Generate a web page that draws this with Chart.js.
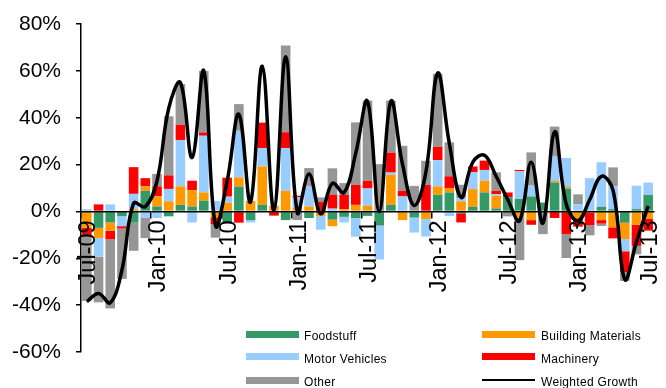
<!DOCTYPE html>
<html>
<head>
<meta charset="utf-8">
<script src="https://cdn.jsdelivr.net/npm/chart.js@4.4.0/dist/chart.umd.min.js"></script>
<style>
  html, body { margin: 0; padding: 0; background: #fff; }
  #wrap { position: relative; width: 666px; height: 388px; overflow: hidden; }
  canvas { display: block; }
  .key-text { position: absolute; font: 12px 'Liberation Sans', Arial, sans-serif; letter-spacing: 0.3px;
              line-height: 12px; color: #000; white-space: nowrap; }
  .key-swatch { position: absolute; width: 53px; }
</style>
</head>
<body>
<div id="wrap">
  <canvas id="chart" width="666" height="388"></canvas>
  <div id="legend"></div>
</div>
<script>
// Monthly contribution to growth by sector, Jul-09 .. Jul-13 (percent)
const months = ['Jul-09','Aug-09','Sep-09','Oct-09','Nov-09','Dec-09','Jan-10','Feb-10','Mar-10','Apr-10','May-10','Jun-10',
  'Jul-10','Aug-10','Sep-10','Oct-10','Nov-10','Dec-10','Jan-11','Feb-11','Mar-11','Apr-11','May-11','Jun-11',
  'Jul-11','Aug-11','Sep-11','Oct-11','Nov-11','Dec-11','Jan-12','Feb-12','Mar-12','Apr-12','May-12','Jun-12',
  'Jul-12','Aug-12','Sep-12','Oct-12','Nov-12','Dec-12','Jan-13','Feb-13','Mar-13','Apr-13','May-13','Jun-13','Jul-13'];

const foodstuff = [0, -7, -4.7, -2, -4.8, 8.8, 2.1, -2.1, 2.8, 2.1, 4.6, 0,
  -4.5, 10.6, -3.7, 2.8, 0, -3.7, 0, -2.8, 0, -3.5, -2.3, -2.8,
  -1.9, -6, 2.8, 0, -2.6, 0, 7.1, 8.1, -0.8, 2, 8.1, 1.3,
  6, 5.3, 6.4, 3.8, 12.3, 9.7, 0, 0, 2, 1, -4.8, 1, 7];

const buildingMaterials = [-7, -4.3, -3.6, 0, 1, 1.9, 4.3, 4.3, 7.9, 7, 3.5, -2.5,
  3.7, 3.9, 4.5, 16.4, 2.4, 8.8, 1.7, 2.1, -2, -2.8, 1, 2.8,
  2.4, 0, 12.8, -3.7, 0, -3.3, 3.6, 1.9, 4.3, 7.5, 5, 5.4,
  0, -2.6, -3.7, 0, 0.7, 0.7, -3, -0.5, -3.7, -6.8, -7, -5.6, -3.2];

const motorVehicles = [1, -8, 3, -4.3, 6.5, -2.6, -2.8, 5.3, 19.8, -4.7, 24.2, 4.5,
  2.6, 19.9, -1, 7.8, 0, 18.2, 4.3, 8.9, -5.8, 1.2, -2.4, -8,
  7.4, -14.5, 1, 6.4, -6.4, -7.4, 11.2, -2, 1.4, 7.2, 4.6, 0.7,
  0, 11.8, 4.6, 0, 10.7, 12.4, 3, 14.2, 19, 9.7, -5.2, 10, 5.3];

const machinery = [-3, 3, -3.6, -1, 11.4, 3.5, 4.3, 5.8, 6.5, 4, 1.4, -3,
  8.1, -4.8, 0, 10.9, -1.8, 6.8, 0.7, 0.4, 4, 6, 6.1, 8.6,
  3.3, 0, 8.5, 2.4, 0, 11.3, 5.7, 5, -3.9, 2.5, 4, 1.4,
  2.1, 0.6, -2, 0, -2.8, -9.7, -3.5, -5.4, -1.5, -4.7, -8.9, -9.1, -5];

const other = [-28.2, -19.5, -29.5, -21.5, -12, -8.8, 5.3, 25.2, 17.4, 0, 26.3, -5.7,
  0, 11.4, 0, 0, 0, 37, -3.7, 7.1, 2, 11.2, 5, 26.6,
  34.2, 20.2, 22.2, 19.2, 10.9, 10.3, 31.1, 14.5, 5.7, 0, 0, 7.9,
  -2.1, -18.2, 14.2, -9.7, 12.5, -10.2, 4.3, -4.3, -1, 8.1, -3.8, -3.6, 0];

const weightedGrowth = [-38.5, -35, -39, -25, 3.5, 2, 13, 44, 55, 23, 60, -6,
  13, 41.5, 4, 62, 0.5, 66, -0.5, 16, -1, 12, 8, 25,
  47, 0, 47, 20, 2.5, 17, 59, 29, 6, 21, 24, 15,
  5, -4, 21, -5, 34, 3, -4, 5, 15, 9, -29, -13, 2.3];

const yTicks = [-60, -40, -20, 0, 20, 40, 60, 80];

const sectors = [
  { name: 'Foodstuff',          values: foodstuff,         color: '#339966' },
  { name: 'Building Materials', values: buildingMaterials, color: '#FF9900' },
  { name: 'Motor Vehicles',     values: motorVehicles,     color: '#99CCFF' },
  { name: 'Machinery',          values: machinery,         color: '#FF0000' },
  { name: 'Other',              values: other,             color: '#969696' }
];

const FONT = "'Liberation Sans', Arial, sans-serif";

const datasets = [
  {
    type: 'line', label: 'Weighted Growth', data: weightedGrowth,
    borderColor: '#000', borderWidth: 3.5, pointRadius: 0, tension: 0.4,
    fill: false, order: 0, stack: 'growth'
  }
].concat(sectors.map(s => ({
  type: 'bar', label: s.name, data: s.values, backgroundColor: s.color,
  borderWidth: 0, barPercentage: 0.82, categoryPercentage: 1, order: 1, stack: 'sectors'
})));

new Chart(document.getElementById('chart'), {
  data: { labels: months, datasets },
  options: {
    responsive: false,
    animation: false,
    events: [],
    layout: { padding: { top: 24, right: 12, bottom: 36, left: 0 } },
    plugins: { legend: { display: false }, tooltip: { enabled: false } },
    scales: {
      x: {
        stacked: true,
        offset: true,
        position: { y: 0 },
        // the month labels sit inside the plot, so they need no side margin
        afterFit: s => { s.paddingLeft = 0; s.paddingRight = 0; },
        grid: {
          z: 1, offset: true, drawOnChartArea: false, drawTicks: true, tickLength: 6, lineWidth: 1.5,
          color: c => (c.index % 6 === 0 ? '#000' : 'rgba(0,0,0,0)')
        },
        border: { z: 1, display: true, color: '#000', width: 1.5 },
        ticks: {
          z: 1, autoSkip: false, minRotation: 90, maxRotation: 90, padding: 3, labelOffset: 2,
          color: '#000', font: { family: FONT, size: 23.5 },
          callback: (v, i) => (i % 6 === 0 ? months[i] : '')
        }
      },
      y: {
        stacked: true,
        min: yTicks[0],
        max: yTicks[yTicks.length - 1],
        afterFit: s => { s.width = 81; s.paddingTop = 0; s.paddingBottom = 0; },
        afterBuildTicks: s => { s.ticks = yTicks.map(v => ({ value: v })); },
        grid: { drawOnChartArea: false, drawTicks: true, tickLength: 5, lineWidth: 1.5, color: '#000' },
        border: { display: true, color: '#000', width: 1.5 },
        ticks: {
          padding: 15, color: '#000', font: { family: FONT, size: 21 },
          callback: v => v + '%'
        }
      }
    }
  }
});

// Two-column key under the plot
const keyItems = [
  { name: 'Foodstuff',          color: '#339966', col: 0, row: 0 },
  { name: 'Building Materials', color: '#FF9900', col: 1, row: 0 },
  { name: 'Motor Vehicles',     color: '#99CCFF', col: 0, row: 1 },
  { name: 'Machinery',          color: '#FF0000', col: 1, row: 1 },
  { name: 'Other',              color: '#969696', col: 0, row: 2 },
  { name: 'Weighted Growth',    color: '#000000', col: 1, row: 2, line: true }
];
const colSwatchX = [246, 482];
const colTextX = [304, 541];
const rowSwatchY = [331, 353, 377];
const rowTextY = [330, 353, 376];
const legend = document.getElementById('legend');
keyItems.forEach(k => {
  const sw = document.createElement('div');
  sw.className = 'key-swatch';
  sw.style.left = colSwatchX[k.col] + 'px';
  sw.style.background = k.color;
  if (k.line) {
    sw.style.top = (rowSwatchY[k.row] + 2) + 'px';
    sw.style.height = '2px';
  } else {
    sw.style.top = rowSwatchY[k.row] + 'px';
    sw.style.height = '7px';
  }
  legend.appendChild(sw);
  const t = document.createElement('div');
  t.className = 'key-text';
  t.style.left = colTextX[k.col] + 'px';
  t.style.top = rowTextY[k.row] + 'px';
  t.textContent = k.name;
  legend.appendChild(t);
});
</script>
</body>
</html>
